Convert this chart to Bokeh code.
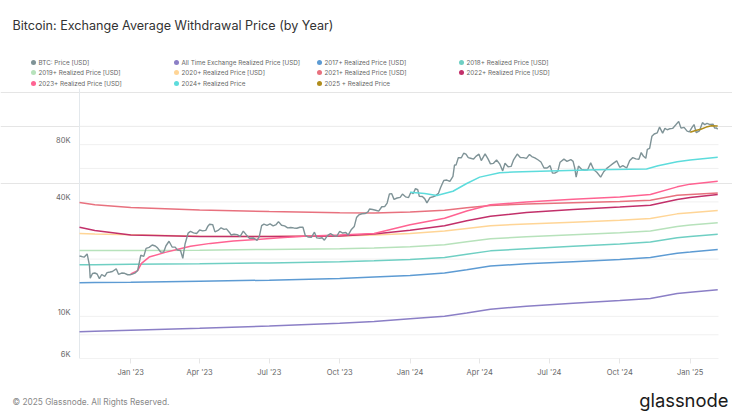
import pandas as pd
from bokeh.plotting import figure
from bokeh.layouts import column
from bokeh.models import Range1d, FixedTicker, DatetimeTickFormatter
from bokeh.core.properties import value
from bokeh.embed import file_html
from bokeh.resources import INLINE

# ---------------- data ----------------
btc_dates = [
    "2022-10-26", "2022-10-29", "2022-11-01", "2022-11-05", "2022-11-08", "2022-11-09", "2022-11-12", "2022-11-15",
    "2022-11-18", "2022-11-21", "2022-11-24", "2022-11-28", "2022-12-01", "2022-12-05", "2022-12-08", "2022-12-13",
    "2022-12-16", "2022-12-20", "2022-12-24", "2022-12-28", "2022-12-31",
    "2023-01-03", "2023-01-07", "2023-01-10", "2023-01-13", "2023-01-14", "2023-01-18", "2023-01-21", "2023-01-25",
    "2023-01-29", "2023-02-02", "2023-02-05", "2023-02-09", "2023-02-13", "2023-02-16", "2023-02-20", "2023-02-24",
    "2023-02-28", "2023-03-03", "2023-03-07", "2023-03-10", "2023-03-13", "2023-03-17", "2023-03-20", "2023-03-24",
    "2023-03-28", "2023-04-01", "2023-04-05", "2023-04-09", "2023-04-12", "2023-04-14", "2023-04-18", "2023-04-21",
    "2023-04-25", "2023-04-29", "2023-05-03", "2023-05-06", "2023-05-10", "2023-05-12", "2023-05-16", "2023-05-20",
    "2023-05-24", "2023-05-28", "2023-06-01", "2023-06-05", "2023-06-10", "2023-06-15", "2023-06-18", "2023-06-21",
    "2023-06-24", "2023-06-28", "2023-07-02", "2023-07-06", "2023-07-10", "2023-07-13", "2023-07-17", "2023-07-21",
    "2023-07-25", "2023-07-29", "2023-08-02", "2023-08-06", "2023-08-10", "2023-08-14", "2023-08-17", "2023-08-21",
    "2023-08-25", "2023-08-29", "2023-09-01", "2023-09-05", "2023-09-08", "2023-09-11", "2023-09-15", "2023-09-19",
    "2023-09-23", "2023-09-27", "2023-10-01", "2023-10-05", "2023-10-09", "2023-10-12", "2023-10-16", "2023-10-20",
    "2023-10-23", "2023-10-26", "2023-10-30", "2023-11-03", "2023-11-07", "2023-11-09", "2023-11-13", "2023-11-17",
    "2023-11-21", "2023-11-25", "2023-11-29", "2023-12-02", "2023-12-05", "2023-12-08", "2023-12-11", "2023-12-15",
    "2023-12-19", "2023-12-22", "2023-12-26", "2023-12-30",
    "2024-01-02", "2024-01-05", "2024-01-08", "2024-01-11", "2024-01-13", "2024-01-17", "2024-01-20", "2024-01-23",
    "2024-01-27", "2024-01-31", "2024-02-03", "2024-02-07", "2024-02-10", "2024-02-14", "2024-02-18", "2024-02-22",
    "2024-02-26", "2024-02-28", "2024-03-01", "2024-03-04", "2024-03-08", "2024-03-11", "2024-03-14", "2024-03-17",
    "2024-03-20", "2024-03-24", "2024-03-27", "2024-03-31", "2024-04-03", "2024-04-08", "2024-04-12", "2024-04-15",
    "2024-04-19", "2024-04-23", "2024-04-27", "2024-05-01", "2024-05-04", "2024-05-08", "2024-05-12", "2024-05-15",
    "2024-05-20", "2024-05-24", "2024-05-28", "2024-06-01", "2024-06-05", "2024-06-08", "2024-06-12", "2024-06-16",
    "2024-06-20", "2024-06-24", "2024-06-28", "2024-07-02", "2024-07-05", "2024-07-08", "2024-07-12", "2024-07-15",
    "2024-07-20", "2024-07-24", "2024-07-29", "2024-08-01", "2024-08-03", "2024-08-05", "2024-08-08", "2024-08-12",
    "2024-08-16", "2024-08-20", "2024-08-24", "2024-08-28", "2024-09-01", "2024-09-06", "2024-09-10", "2024-09-14",
    "2024-09-18", "2024-09-22", "2024-09-27", "2024-10-01", "2024-10-05", "2024-10-10", "2024-10-14", "2024-10-18",
    "2024-10-22", "2024-10-26", "2024-10-29", "2024-11-01", "2024-11-04", "2024-11-06", "2024-11-09", "2024-11-12",
    "2024-11-15", "2024-11-19", "2024-11-22", "2024-11-26", "2024-11-29", "2024-12-02", "2024-12-05", "2024-12-09",
    "2024-12-13", "2024-12-17", "2024-12-20", "2024-12-24", "2024-12-28", "2024-12-31",
    "2025-01-03", "2025-01-06", "2025-01-09", "2025-01-13", "2025-01-17", "2025-01-20", "2025-01-23", "2025-01-27",
    "2025-01-31", "2025-02-02", "2025-02-04", "2025-02-06",
]
btc_price = [
    20770, 20630, 20480, 21300, 18540, 15880, 16800, 16900, 16700, 15780, 16600, 16220, 16970, 17100, 17220, 17780,
    16630, 16900, 16840, 16550, 16540,
    16680, 16940, 17440, 19930, 20950, 20680, 22780, 23060, 23740, 23440, 22930, 21800, 21780, 23520, 24830, 23170,
    23140, 22350, 22210, 20190, 24110, 27420, 28000, 27490, 27260, 28450, 28170, 28330, 29900, 30490, 30390, 27820,
    28300, 29240, 28680, 28850, 27620, 26800, 27030, 26890, 26330, 28070, 26820, 25730, 25850, 25120, 26340, 29990,
    30540, 30090, 30620, 29910, 30410, 31480, 30140, 29910, 29180, 29350, 29180, 29060, 29430, 29410, 26630, 26120,
    26060, 27730, 25870, 25770, 25900, 25150, 26610, 27220, 26580, 26350, 27980, 27430, 27590, 26760, 28520, 29670,
    33090, 34150, 34650, 34730, 35420, 36700, 36490, 36160, 35760, 37720, 37860, 39460, 44080, 44200, 41240, 41930,
    42260, 43990, 42520, 42140,
    44950, 44160, 46970, 46340, 42850, 42740, 41620, 39520, 42100, 42580, 43010, 44340, 47770, 51840, 52140, 51300,
    54520, 62500, 62430, 68330, 68300, 72120, 71400, 68390, 67910, 67210, 69460, 71330, 65980, 71630, 67190, 63430,
    63820, 66400, 63430, 58250, 63900, 61190, 61480, 66270, 71450, 68550, 68370, 67760, 71080, 69300, 68240, 66640,
    64850, 60280, 60320, 62030, 56660, 56710, 57890, 64720, 67150, 65370, 66800, 65350, 60690, 54020, 61710, 59350,
    58880, 59010, 64180, 59040, 57300, 53960, 57650, 60000, 61760, 63580, 65790, 60840, 62070, 60330, 66080, 68380,
    67380, 67010, 72740, 69490, 67810, 75640, 76510, 88700, 91070, 92310, 98970, 91980, 97460, 95860, 96970, 97430,
    101450, 106060, 97760, 98680, 94280, 93430,
    98140, 102080, 92490, 94520, 104460, 102020, 103650, 102090, 102400, 97700, 98000, 96600,
]

rp_dates = ["2022-10-26", "2022-11-15", "2023-01-01", "2023-04-01", "2023-07-01", "2023-10-01", "2023-11-15",
            "2024-01-01", "2024-02-15", "2024-03-15", "2024-04-15", "2024-06-01", "2024-08-01", "2024-10-01",
            "2024-11-10", "2024-12-15", "2025-01-01", "2025-02-06"]
rp_all_time = [8300, 8350, 8450, 8650, 8900, 9200, 9400, 9700, 10000, 10400, 10900, 11300, 11700, 12100, 12400, 13200, 13400, 13800]
rp_2017 = [15000, 15050, 15100, 15300, 15500, 15800, 16100, 16400, 16900, 17600, 18400, 18900, 19400, 19900, 20400, 21500, 21800, 22500]
rp_2018 = [18700, 18700, 18800, 18900, 19100, 19400, 19600, 19900, 20400, 21200, 22100, 22700, 23400, 24000, 24600, 25900, 26300, 27000]
rp_2019 = [22200, 22200, 22200, 22300, 22500, 22700, 22900, 23200, 23800, 24700, 25600, 26200, 26900, 27500, 28100, 29700, 30200, 31100]
rp_2020 = [27300, 27100, 26900, 26400, 26300, 26500, 26800, 27300, 28100, 29000, 30000, 30600, 31300, 32000, 32700, 34600, 35100, 36000]
rp_2021 = [39700, 38600, 37400, 36300, 35600, 35100, 35000, 35400, 36200, 37300, 38300, 39000, 39600, 40200, 40800, 43300, 43800, 44600]
rp_2022 = [29400, 28300, 26800, 26300, 26300, 26500, 27100, 28400, 30000, 31800, 33600, 35200, 36500, 37600, 38400, 41200, 42200, 43700]

rp_2023_dates = ["2023-01-01", "2023-01-10", "2023-01-15", "2023-01-25", "2023-02-15", "2023-03-01", "2023-03-20",
                 "2023-04-15", "2023-05-15", "2023-06-15", "2023-07-15", "2023-08-15", "2023-10-01", "2023-11-15",
                 "2024-01-01", "2024-02-15", "2024-03-15", "2024-04-15", "2024-06-01", "2024-08-01", "2024-10-01",
                 "2024-11-10", "2024-12-15", "2025-01-01", "2025-02-06"]
rp_2023 = [16700, 17400, 19000, 20500, 21700, 22400, 23400, 24200, 24900, 25400, 25900, 26400, 26800, 27300,
           30300, 32800, 35800, 38600, 40000, 41300, 42500, 43800, 48000, 49600, 51400]

rp_2024_dates = ["2024-01-01", "2024-01-20", "2024-02-05", "2024-02-26", "2024-03-15", "2024-04-01", "2024-04-27",
                 "2024-05-15", "2024-07-01", "2024-09-01", "2024-11-05", "2024-11-20", "2024-12-15", "2025-01-01",
                 "2025-02-06"]
rp_2024 = [45000, 44300, 43200, 45500, 50000, 54000, 56900, 57400, 58200, 59000, 59600, 62000, 65000, 66500, 68700]

rp_2025_dates = ["2025-01-01", "2025-01-08", "2025-01-15", "2025-01-22", "2025-01-29", "2025-02-06"]
rp_2025 = [93000, 95000, 96500, 99000, 100500, 100300]

series_names = ["BTC: Price [USD]", "All Time Exchange Realized Price [USD]", "2017+ Realized Price [USD]",
                "2018+ Realized Price [USD]", "2019+ Realized Price [USD]", "2020+ Realized Price [USD]",
                "2021+ Realized Price [USD]", "2022+ Realized Price [USD]", "2023+ Realized Price [USD]",
                "2024+ Realized Price", "2025 + Realized Price"]
series_colors = ["#7f9397", "#8b7fc6", "#5d9bd3", "#6fcfc3", "#b7e2bb", "#ffd596", "#e8717e",
                 "#c2306a", "#ff6392", "#5ddcdc", "#b08d1c"]

y_grid_values = [8000, 10000, 20000, 40000, 60000, 80000, 100000]
y_label_values = [6000, 10000, 40000, 80000]
y_label_texts = ["6K", "10K", "40K", "80K"]
x_tick_dates = ["2023-01-01", "2023-04-01", "2023-07-01", "2023-10-01", "2024-01-01", "2024-04-01",
                "2024-07-01", "2024-10-01", "2025-01-01"]
x_start_date, x_end_date = "2022-10-26", "2025-02-07"
y_min, y_max = 6000, 158000

title_text = "Bitcoin: Exchange Average Withdrawal Price (by Year)"
footer_text = "\u00A9 2025 Glassnode. All Rights Reserved."
logo_text = "glassnode"

# ---------------- layout constants (page pixels) ----------------
W = 732
TOP_H = 88            # header band: title + legend
FL, FR = 79, 718      # data area left / right
FB = 358              # data area bottom on the page
MAIN_BOTTOM = 386
H_TOTAL = 412
FONT = value("Inter")


def blank(height, y0):
    f = figure(width=W, height=height, output_backend="svg", toolbar_location=None,
               x_axis_location=None, y_axis_location=None,
               x_range=Range1d(0, W), y_range=Range1d(y0 + height, y0),
               min_border=0, min_border_left=0, min_border_right=0, min_border_top=0, min_border_bottom=0)
    f.grid.grid_line_color = None
    f.outline_line_color = None
    f.background_fill_color = "white"
    f.border_fill_color = "white"
    return f


# ---------------- header ----------------
top = blank(TOP_H, 0)
top.text(x=[12], y=[25], text=[title_text], text_font=FONT, text_font_size=value("12.6px"),
         text_color="#333333", text_baseline="middle", text_align="left")
col_x = [33, 176, 319, 461]
row_y = [62, 72, 83]
lx = [col_x[i % 4] for i in range(len(series_names))]
ly = [row_y[i // 4] for i in range(len(series_names))]
top.scatter(x=lx, y=ly, size=5, color=series_colors, line_color=None)
top.text(x=[v + 5 for v in lx], y=ly, text=series_names, text_font=FONT, text_font_size=value("6.3px"),
         text_color="#666666", text_baseline="middle", text_align="left")

# ---------------- main chart ----------------
d0, d1 = pd.Timestamp(x_start_date), pd.Timestamp(x_end_date)
span = d1 - d0
x_range = Range1d(d0 - span * FL / (FR - FL), d1 + span * (W - FR) / (FR - FL))

p = figure(width=W, height=MAIN_BOTTOM - TOP_H, x_axis_type="datetime", y_axis_type="log",
           y_axis_location=None, output_backend="svg", toolbar_location=None,
           x_range=x_range, y_range=Range1d(y_min, y_max),
           min_border_left=0, min_border_right=0, min_border_top=0, min_border_bottom=MAIN_BOTTOM - FB)
p.outline_line_color = None
p.background_fill_color = "white"
p.border_fill_color = "white"
p.xgrid.grid_line_color = None

# gridlines and axis lines over the data area
n = len(y_grid_values)
p.segment(x0=[d0] * n, x1=[d1] * n, y0=y_grid_values, y1=y_grid_values, line_color="#f0f0f0", line_width=1)
p.segment(x0=[d0], x1=[d1], y0=[y_min], y1=[y_min], line_color="#e6e6e6", line_width=1)
p.segment(x0=[d0], x1=[d0], y0=[y_min], y1=[y_max], line_color="#e3e8ec", line_width=1)

p.text(x=[d0] * len(y_label_values), y=y_label_values, text=y_label_texts, x_offset=-9, y_offset=-4,
       text_font=FONT, text_font_size=value("7.5px"), text_color="#666666",
       text_align="right", text_baseline="middle")


def dt(lst):
    return pd.to_datetime(lst)


lines = [
    (rp_dates, rp_all_time, 1), (rp_dates, rp_2017, 2), (rp_dates, rp_2018, 3), (rp_dates, rp_2019, 4),
    (rp_dates, rp_2020, 5), (rp_dates, rp_2021, 6), (rp_dates, rp_2022, 7), (rp_2023_dates, rp_2023, 8),
]
for d, v, i in lines:
    p.line(dt(d), v, line_color=series_colors[i], line_width=1.5)
p.line(dt(btc_dates), btc_price, line_color=series_colors[0], line_width=1.4)
p.line(dt(rp_2024_dates), rp_2024, line_color=series_colors[9], line_width=1.5)
p.line(dt(rp_2025_dates), rp_2025, line_color=series_colors[10], line_width=1.5)

p.xaxis.ticker = FixedTicker(ticks=[pd.Timestamp(d).value // 10**6 for d in x_tick_dates])
fmt = "%b '%y"
p.xaxis.formatter = DatetimeTickFormatter(milliseconds=fmt, seconds=fmt, minsec=fmt, minutes=fmt, hourmin=fmt,
                                          hours=fmt, days=fmt, months=fmt, years=fmt)
p.xaxis.axis_line_color = None
p.xaxis.major_tick_line_color = "#e6e6e6"
p.xaxis.major_tick_out = 5
p.xaxis.major_tick_in = 0
p.xaxis.minor_tick_line_color = None
p.xaxis.major_label_text_font = "Inter"
p.xaxis.major_label_text_font_size = "7.5px"
p.xaxis.major_label_text_color = "#666666"
p.xaxis.major_label_standoff = 4

# ---------------- footer ----------------
bot = blank(H_TOTAL - MAIN_BOTTOM, MAIN_BOTTOM)
bot.text(x=[12], y=[401], text=[footer_text], text_font=FONT, text_font_size=value("8.3px"),
         text_color="#888888", text_baseline="middle", text_align="left")
bot.text(x=[728], y=[399], text=[logo_text], text_font=FONT, text_font_size=value("18.4px"),
         text_color="#1a1a1a", text_baseline="middle", text_align="right")

layout = column(top, p, bot, spacing=0)
open("out.html", "w").write(file_html(layout, INLINE))
